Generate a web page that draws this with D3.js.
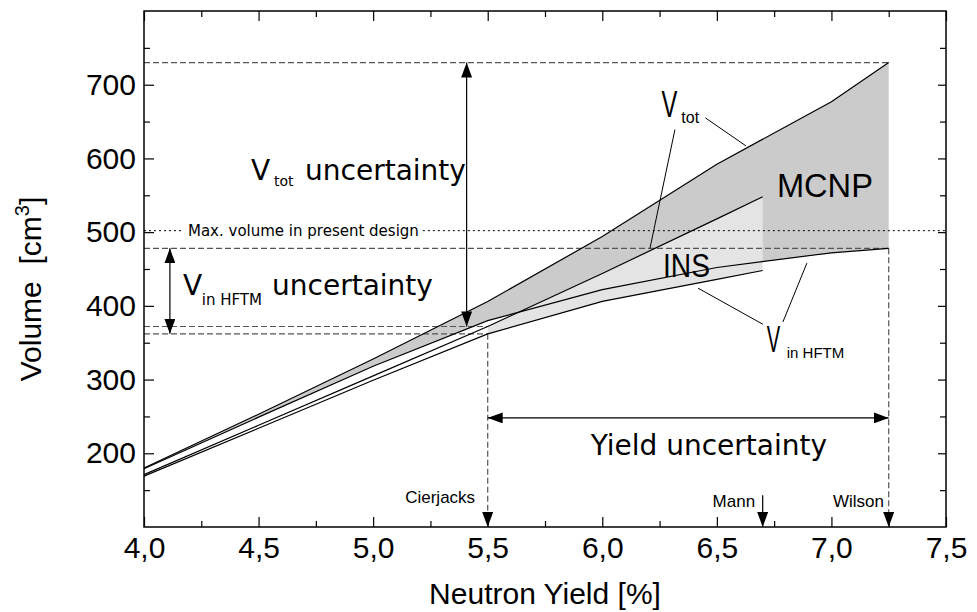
<!DOCTYPE html>
<html>
<head>
<meta charset="utf-8">
<script src="https://cdn.jsdelivr.net/npm/d3@7"></script>
<style>
  body { margin: 0; background: #fff; }
  text { fill: #000; white-space: pre; }
</style>
</head>
<body>
<svg id="chart" width="977" height="612"></svg>
<script>
// ---- data -------------------------------------------------------------
// MCNP calculation: total volume and volume inside the HFTM vs neutron yield
const yieldMCNP = [4.0, 4.5, 5.0, 5.5, 6.0, 6.5, 7.0, 7.25];
const vTotMCNP  = [180, 253, 328, 406, 494, 592, 677, 730];
const vInMCNP   = [179, 249, 318, 380, 422, 452, 472, 478];

// INS calculation
const yieldINS  = [4.0, 4.5, 5.0, 5.5, 6.0, 6.5, 6.7];
const vTotINS   = [171, 238, 305, 372, 444, 518, 548];
const vInINS    = [169, 234, 299, 362, 406, 436, 448];

// Neutron yield estimates from the literature
const yieldRefNames  = ["Cierjacks", "Mann", "Wilson"];
const yieldRefValues = [5.5, 6.7, 7.25];

const maxDesignVolume = 502;

const xMajorTicks = [4.0, 4.5, 5.0, 5.5, 6.0, 6.5, 7.0, 7.5];
const xMinorTicks = [4.25, 4.75, 5.25, 5.75, 6.25, 6.75, 7.25];
const yMajorTicks = [200, 300, 400, 500, 600, 700];
const yMinorTicks = [150, 250, 350, 450, 550, 650, 750];

// ---- layout -------------------------------------------------------------
const svg = d3.select("#chart");
const x = d3.scaleLinear().domain([4.0, 7.5]).range([144, 946]);
const y = d3.scaleLinear().domain([100, 800]).range([527, 11]);

const TICK_FONT = "'Liberation Sans', Arial, sans-serif";
const NOTE_FONT = "'DejaVu Sans', sans-serif";

const mcnp = yieldMCNP.map((t, i) => ({ t, tot: vTotMCNP[i], vin: vInMCNP[i] }));
const ins  = yieldINS.map((t, i) => ({ t, tot: vTotINS[i], vin: vInINS[i] }));

const yCier = yieldRefValues[0], yMann = yieldRefValues[1], yWil = yieldRefValues[2];
const totMin = vTotINS[yieldINS.indexOf(yCier)];
const inMin  = vInINS[yieldINS.indexOf(yCier)];
const totMax = d3.max(vTotMCNP);
const inMax  = d3.max(vInMCNP);

// arrow heads
const defs = svg.append("defs");
defs.append("marker")
  .attr("id", "head")
  .attr("markerUnits", "userSpaceOnUse")
  .attr("markerWidth", 15).attr("markerHeight", 11)
  .attr("refX", 15).attr("refY", 5.5)
  .attr("orient", "auto-start-reverse")
  .append("path").attr("d", "M0,0 L15,5.5 L0,11 Z").attr("fill", "#000");

// ---- shaded bands -----------------------------------------------------
svg.append("path")
  .datum(mcnp)
  .attr("fill", "#cbcbcb")
  .attr("d", d3.area().x(d => x(d.t)).y0(d => y(d.vin)).y1(d => y(d.tot)));

svg.append("path")
  .datum(ins.filter(d => d.t >= yCier))
  .attr("fill", "#e4e4e4")
  .attr("d", d3.area().x(d => x(d.t)).y0(d => y(d.vin)).y1(d => y(d.tot)));

// ---- reference lines --------------------------------------------------
const dashed = (t0, v0, t1, v1) => svg.append("line")
  .attr("x1", x(t0)).attr("y1", y(v0)).attr("x2", x(t1)).attr("y2", y(v1))
  .attr("stroke", "#555").attr("stroke-width", 1.2).attr("stroke-dasharray", "6,3");

dashed(4.0, totMax, yWil, totMax);
dashed(4.0, inMax, yWil, inMax);
dashed(4.0, totMin, yCier, totMin);
dashed(4.0, inMin, yCier, inMin);
dashed(yCier, inMin, yCier, 100).attr("marker-end", "url(#head)");
dashed(yWil, inMax, yWil, 100).attr("marker-end", "url(#head)");

// max. volume in present design (dotted, interrupted by its label)
const maxLabel = svg.append("text")
  .attr("x", x(4.192)).attr("y", y(maxDesignVolume) + 5)
  .attr("font-family", NOTE_FONT).attr("font-size", 15)
  .text("Max. volume in present design");
const mlW = maxLabel.node().getComputedTextLength();
svg.append("line")
  .attr("x1", x(4.0)).attr("x2", x(4.192) - 4)
  .attr("y1", y(maxDesignVolume)).attr("y2", y(maxDesignVolume))
  .attr("stroke", "#000").attr("stroke-width", 1).attr("stroke-dasharray", "2,3");
svg.append("line")
  .attr("x1", x(4.192) + mlW + 4).attr("x2", x(7.5))
  .attr("y1", y(maxDesignVolume)).attr("y2", y(maxDesignVolume))
  .attr("stroke", "#000").attr("stroke-width", 1).attr("stroke-dasharray", "2,3");

// ---- curves -----------------------------------------------------------
const curve = (data, key) => svg.append("path")
  .datum(data)
  .attr("fill", "none").attr("stroke", "#000").attr("stroke-width", 1.2)
  .attr("d", d3.line().x(d => x(d.t)).y(d => y(d[key])));

curve(mcnp, "tot");
curve(mcnp, "vin");
curve(ins, "tot");
curve(ins, "vin");

// ---- uncertainty arrows ----------------------------------------------
const arrow = (t0, v0, t1, v1) => svg.append("line")
  .attr("x1", x(t0)).attr("y1", y(v0)).attr("x2", x(t1)).attr("y2", y(v1))
  .attr("stroke", "#000").attr("stroke-width", 1.2)
  .attr("marker-start", "url(#head)").attr("marker-end", "url(#head)");

arrow(5.408, totMax, 5.408, totMin);
arrow(4.113, inMax, 4.113, inMin);
arrow(yCier, 248, yWil, 248);

// Mann marker arrow
svg.append("line")
  .attr("x1", x(yMann)).attr("y1", y(143)).attr("x2", x(yMann)).attr("y2", y(100))
  .attr("stroke", "#000").attr("stroke-width", 1.2)
  .attr("marker-end", "url(#head)");

// ---- leader lines for curve labels ----------------------------------
const leader = (t0, v0, t1, v1) => svg.append("line")
  .attr("x1", x(t0)).attr("y1", y(v0)).attr("x2", x(t1)).attr("y2", y(v1))
  .attr("stroke", "#000").attr("stroke-width", 1);

leader(6.450, 655, 6.627, 617);
leader(6.317, 639, 6.208, 478);
leader(6.418, 424, 6.701, 375);
leader(6.893, 458, 6.788, 378);

// ---- text annotations -------------------------------------------------
const note = (t, v, str, size, font, len) => {
  const el = svg.append("text")
    .attr("x", x(t)).attr("y", y(v))
    .attr("font-family", font || NOTE_FONT).attr("font-size", size)
    .text(str);
  if (len) el.attr("textLength", len).attr("lengthAdjust", "spacingAndGlyphs");
  return el;
};

// narrow (horizontally compressed) label
const narrow = (t, v, str, size, sx) => svg.append("text")
  .attr("transform", `translate(${x(t)},${y(v)}) scale(${sx},1)`)
  .attr("font-family", TICK_FONT).attr("font-size", size)
  .text(str);

// V_tot uncertainty
note(4.467, 571, "V", 28);
note(4.567, 562.6, "tot", 14);
note(4.703, 571, "uncertainty", 28);

// V_in HFTM uncertainty
note(4.170, 414.7, "V", 28);
note(4.252, 401.2, "in HFTM", 15);
note(4.559, 414.7, "uncertainty", 28);

// curve labels
narrow(6.258, 656, "V", 36, 0.66);
note(6.345, 648, "tot", 16, TICK_FONT);
narrow(6.718, 337.4, "V", 36, 0.56);
note(6.805, 329.3, "in HFTM", 15, TICK_FONT);
note(6.762, 547.7, "MCNP", 34, TICK_FONT, 96);
note(6.265, 439.2, "INS", 34, TICK_FONT, 47);

// yield uncertainty
svg.append("text")
  .attr("x", x((yCier + yWil) / 2 + 0.09)).attr("y", y(197.7))
  .attr("text-anchor", "middle")
  .attr("font-family", NOTE_FONT).attr("font-size", 28)
  .text("Yield uncertainty");

// literature yield names
const refBaseline = [132.6, 127, 127];
const refRightEdge = [5.445, 6.667, 7.229];
yieldRefNames.forEach((name, i) => {
  svg.append("text")
    .attr("x", x(refRightEdge[i])).attr("y", y(refBaseline[i]))
    .attr("text-anchor", "end")
    .attr("font-family", TICK_FONT).attr("font-size", 17)
    .text(name);
});

// ---- axes -------------------------------------------------------------
const fmt = d => d3.format(".1f")(d).replace(".", ",");
const styleAxis = g => {
  g.select(".domain").remove();
  g.selectAll("line").attr("stroke", "#000").attr("stroke-width", 1.2);
  g.selectAll("text").attr("font-family", TICK_FONT).attr("font-size", 30).attr("fill", "#000");
};

svg.append("g").attr("transform", `translate(0,${y(100)})`)
  .call(d3.axisBottom(x).tickValues(xMajorTicks).tickSizeInner(-10).tickSizeOuter(0)
    .tickPadding(10).tickFormat(fmt))
  .call(styleAxis);
svg.append("g").attr("transform", `translate(0,${y(100)})`)
  .call(d3.axisBottom(x).tickValues(xMinorTicks).tickSizeInner(-6).tickSizeOuter(0).tickFormat(""))
  .call(styleAxis);
svg.append("g").attr("transform", `translate(0,${y(800)})`)
  .call(d3.axisTop(x).tickValues(xMajorTicks).tickSizeInner(-10).tickSizeOuter(0).tickFormat(""))
  .call(styleAxis);
svg.append("g").attr("transform", `translate(0,${y(800)})`)
  .call(d3.axisTop(x).tickValues(xMinorTicks).tickSizeInner(-6).tickSizeOuter(0).tickFormat(""))
  .call(styleAxis);

svg.append("g").attr("transform", `translate(${x(4.0)},0)`)
  .call(d3.axisLeft(y).tickValues(yMajorTicks).tickSizeInner(-10).tickSizeOuter(0)
    .tickPadding(8).tickFormat(d3.format("d")))
  .call(styleAxis);
svg.append("g").attr("transform", `translate(${x(4.0)},0)`)
  .call(d3.axisLeft(y).tickValues(yMinorTicks).tickSizeInner(-6).tickSizeOuter(0).tickFormat(""))
  .call(styleAxis);
svg.append("g").attr("transform", `translate(${x(7.5)},0)`)
  .call(d3.axisRight(y).tickValues(yMajorTicks).tickSizeInner(-8).tickSizeOuter(0).tickFormat(""))
  .call(styleAxis);
svg.append("g").attr("transform", `translate(${x(7.5)},0)`)
  .call(d3.axisRight(y).tickValues(yMinorTicks).tickSizeInner(-6).tickSizeOuter(0).tickFormat(""))
  .call(styleAxis);

// frame
svg.append("rect")
  .attr("x", x(4.0)).attr("y", y(800))
  .attr("width", x(7.5) - x(4.0)).attr("height", y(100) - y(800))
  .attr("fill", "none").attr("stroke", "#000").attr("stroke-width", 1.5);

// axis titles
svg.append("text")
  .attr("x", (x(4.0) + x(7.5)) / 2).attr("y", 604)
  .attr("text-anchor", "middle")
  .attr("font-family", TICK_FONT).attr("font-size", 30)
  .text("Neutron Yield [%]");

const yTitle = svg.append("text")
  .attr("transform", `translate(41,${(y(100) + y(800)) / 2 + 20}) rotate(-90)`)
  .attr("text-anchor", "middle")
  .attr("font-family", TICK_FONT).attr("font-size", 30);
yTitle.append("tspan").text("Volume  [cm");
yTitle.append("tspan").attr("font-size", 20).attr("dy", -12).text("3");
yTitle.append("tspan").attr("dy", 12).text("]");
</script>
</body>
</html>
